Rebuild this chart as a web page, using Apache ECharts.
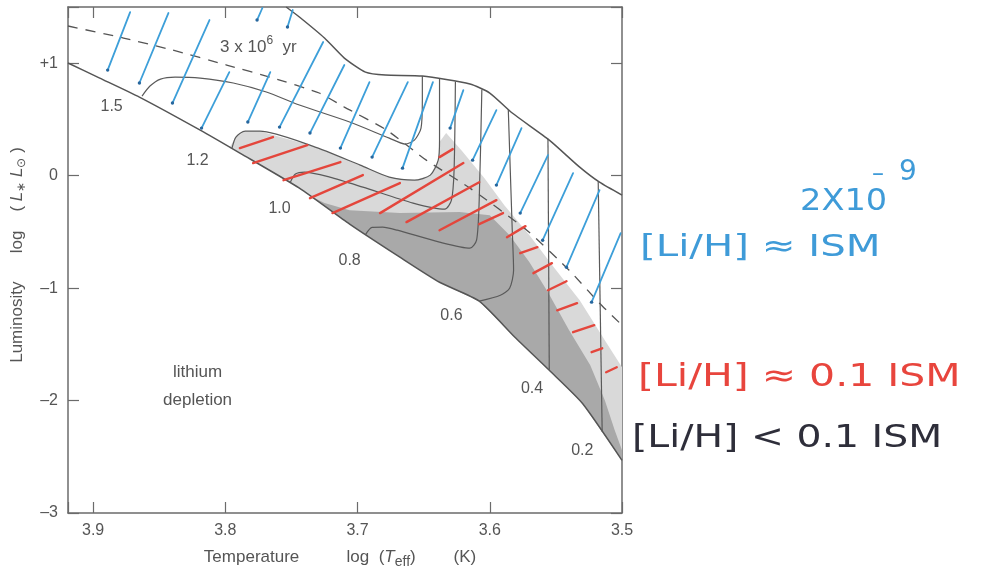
<!DOCTYPE html>
<html><head><meta charset="utf-8">
<script src="https://cdn.jsdelivr.net/npm/echarts@6/dist/echarts.min.js"></script>
<style>html,body{margin:0;padding:0;background:#fff}#c{width:984px;height:580px}</style>
</head><body><div id="c"></div>
<script>
// ---- axis settings (log Teff, log L) ----
const xMin = 3.5, xMax = 3.919, xStep = 0.1;
const yMin = -3, yMax = 1.5, yStep = 1;

// ---- boundaries [logTeff, logL] ----
const zams = [[3.919,1.002],[3.895,0.868],[3.865,0.699],[3.819,0.405],[3.789,0.201],[3.744,-0.111],[3.706,-0.431],[3.668,-0.725],[3.638,-0.948],[3.608,-1.116],[3.581,-1.437],[3.555,-1.731],[3.530,-2.024],[3.500,-2.532]];
const birthline = [[3.754,1.500],[3.744,1.411],[3.725,1.224],[3.710,1.046],[3.694,0.921],[3.679,0.895],[3.651,0.886],[3.615,0.815],[3.600,0.735],[3.583,0.557],[3.555,0.316],[3.532,0.076],[3.517,-0.058],[3.500,-0.173]];
const isochrone3Myr = [[3.919,1.331],[3.877,1.224],[3.840,1.117],[3.799,0.984],[3.764,0.868],[3.729,0.735],[3.710,0.610],[3.678,0.405],[3.648,0.138],[3.615,-0.111],[3.572,-0.485],[3.540,-0.841],[3.517,-1.134],[3.500,-1.330]];

// ---- evolutionary tracks ----
const track15 = [[3.863,0.708],[3.857,0.797],[3.849,0.859],[3.838,0.877],[3.819,0.868],[3.794,0.824],[3.769,0.744],[3.744,0.628],[3.706,0.477],[3.676,0.334],[3.664,0.281],[3.657,0.316],[3.652,0.423],[3.651,0.672],[3.651,0.886]];
const track12 = [[3.795,0.242],[3.792,0.343],[3.785,0.396],[3.774,0.396],[3.734,0.263],[3.698,0.094],[3.676,-0.013],[3.657,-0.040],[3.645,0.005],[3.639,0.138],[3.638,0.316],[3.638,0.861]];
const track10 = [[3.751,-0.062],[3.747,0.014],[3.740,0.032],[3.721,-0.013],[3.696,-0.102],[3.658,-0.244],[3.634,-0.298],[3.629,-0.218],[3.627,0.049],[3.626,0.838]];
const track08 = [[3.694,-0.524],[3.689,-0.46],[3.681,-0.458],[3.670,-0.485],[3.638,-0.591],[3.615,-0.645],[3.610,-0.574],[3.608,-0.218],[3.606,0.767]];
const track06 = [[3.608,-1.116],[3.592,-1.063],[3.585,-1.001],[3.582,-0.841],[3.583,-0.485],[3.585,0.227],[3.586,0.588]];
const track04 = [[3.556,0.330],[3.555,-1.725]];
const track02 = [[3.518,-0.049],[3.515,-2.278]];

// ---- shaded zones (edges; closed along the ZAMS) ----
const lightZoneEdge = [[3.797,0.245],[3.792,0.343],[3.785,0.396],[3.774,0.396],[3.734,0.263],[3.698,0.094],[3.676,-0.013],[3.657,-0.040],[3.645,0.005],[3.639,0.138],[3.638,0.300],[3.633,0.380],[3.621,0.220],[3.604,-0.022],[3.589,-0.262],[3.570,-0.529],[3.551,-0.823],[3.532,-1.107],[3.513,-1.464],[3.500,-1.704]];
const darkZoneEdge = [[3.736,-0.178],[3.725,-0.244],[3.706,-0.307],[3.668,-0.333],[3.623,-0.324],[3.600,-0.351],[3.585,-0.529],[3.570,-0.770],[3.556,-1.037],[3.540,-1.375],[3.524,-1.686],[3.513,-1.998],[3.5055,-2.265],[3.500,-2.443]];

// ---- hand-drawn hatching [x1,y1,x2,y2] ----
const blueHatch = [[3.872,1.455,3.889,0.939],[3.843,1.447,3.865,0.824],[3.812,1.384,3.840,0.646],[3.772,1.491,3.776,1.384],[3.749,1.473,3.753,1.322],[3.797,0.921,3.818,0.423],[3.766,0.921,3.783,0.477],[3.726,1.189,3.759,0.432],[3.710,0.984,3.736,0.379],[3.691,0.832,3.713,0.245],[3.662,0.832,3.689,0.165],[3.643,0.832,3.666,0.067],[3.620,0.761,3.630,0.423],[3.595,0.583,3.613,0.138],[3.576,0.423,3.595,-0.084],[3.556,0.183,3.577,-0.333],[3.537,0.023,3.560,-0.574],[3.517,-0.129,3.542,-0.814],[3.501,-0.511,3.523,-1.125]];
const redHatch = [[3.789,0.245,3.764,0.343],[3.779,0.112,3.738,0.272],[3.756,-0.040,3.713,0.121],[3.736,-0.200,3.696,0.005],[3.719,-0.333,3.668,-0.066],[3.683,-0.333,3.620,0.112],[3.663,-0.413,3.608,-0.058],[3.638,-0.485,3.595,-0.218],[3.638,0.165,3.628,0.236],[3.608,-0.431,3.590,-0.333],[3.587,-0.547,3.573,-0.449],[3.577,-0.689,3.564,-0.636],[3.567,-0.867,3.553,-0.778],[3.556,-1.019,3.542,-0.939],[3.549,-1.197,3.534,-1.134],[3.537,-1.392,3.521,-1.330],[3.523,-1.570,3.515,-1.535],[3.512,-1.748,3.504,-1.704]];

// ---- text labels ----
const massLabels = ['1.5','1.2','1.0','0.8','0.6','0.4','0.2'];
const massLabelX = [3.886,3.821,3.759,3.706,3.629,3.568,3.530];
const massLabelY = [0.610,0.138,-0.289,-0.752,-1.241,-1.891,-2.443];
const plotTexts = ['3 x 10{sup|6}  yr','lithium\ndepletion'];
const plotTextX = [3.775,3.821];
const plotTextY = [1.144,-1.873];

const lightPoly = lightZoneEdge.concat([[3.5,-2.532]]).concat(zams.filter(p => p[0] < 3.797 && p[0] > 3.5).reverse());
const darkPoly = darkZoneEdge.concat([[3.5,-2.532]]).concat(zams.filter(p => p[0] < 3.736 && p[0] > 3.5).reverse());

const FONT = 'Liberation Sans, Arial, sans-serif';
const GREY = '#555';

function polySeries(poly, fill, z) {
  return { type:'custom', clip:true, z:z, silent:true, data: poly,
    renderItem: function(params, api){
      if (params.dataIndex !== 0) return null;
      return { type:'polygon', shape:{ points: poly.map(p => api.coord(p)) }, style:{ fill: fill } };
    } };
}
function hatchSeries(rows, color, dotColor, z, width) {
  return { type:'custom', clip:true, z:z, silent:true, data: rows, encode:{x:[0,2], y:[1,3]},
    renderItem: function(params, api){
      const a = api.coord([api.value(0), api.value(1)]);
      const b = api.coord([api.value(2), api.value(3)]);
      const ch = [{ type:'line', shape:{x1:a[0],y1:a[1],x2:b[0],y2:b[1]}, style:{stroke:color, lineWidth:width, lineCap:'round'} }];
      if (dotColor) ch.push({ type:'circle', shape:{cx:b[0], cy:b[1], r:1.7}, style:{fill:dotColor} });
      return { type:'group', children: ch };
    } };
}
function lineSeries(data, opts) {
  return Object.assign({ type:'line', data:data, showSymbol:false, symbol:'none', silent:true, z:3,
    lineStyle:{ color:'#5a5a5a', width:1.2 }, smooth:0.25 }, opts || {});
}
function textSeries(xs, ys, texts, size) {
  return { type:'custom', z:6, silent:true, data: xs.map((x,i) => [x, ys[i]]),
    renderItem: function(params, api){
      const p = api.coord([api.value(0), api.value(1)]);
      return { type:'text', x:p[0], y:p[1], style:{ text: texts[params.dataIndex], fill:GREY, fontSize:size, fontFamily:FONT, align:'center', verticalAlign:'middle', lineHeight: size*1.65,
        rich:{ sup:{ fontSize:12, fill:GREY, fontFamily:FONT, padding:[0,0,12,0] } } } };
    } };
}

const axisCommon = {
  axisLine:{ onZero:false, lineStyle:{ color:'#6b6b6b', width:1.5 } },
  axisTick:{ inside:true, length:11, lineStyle:{ color:'#6b6b6b', width:1.2 } },
  splitLine:{ show:false }
};

const chart = echarts.init(document.getElementById('c'), null, {renderer:'canvas'});
chart.setOption({
  animation:false,
  backgroundColor:'#ffffff',
  grid:{ left:68, right:362, top:7, bottom:67 },
  xAxis:[
    Object.assign({ type:'value', min:xMin, max:xMax, interval:xStep, inverse:true, position:'bottom',
      axisLabel:{ margin:10, color:GREY, fontSize:16, fontFamily:FONT,
        formatter: v => { const r = Math.round(v*10)/10; return Math.abs(v-r) < 1e-6 ? r.toFixed(1) : ''; } },
      name:'Temperature          log  ({i|T}{s|eff})        (K)', nameLocation:'middle', nameGap:32,
      nameTextStyle:{ color:GREY, fontSize:17, fontFamily:FONT, padding:[0,10,0,0],
        rich:{ i:{ fontStyle:'italic', fontSize:17, color:GREY, fontFamily:FONT }, s:{ fontSize:14, color:GREY, fontFamily:FONT, padding:[10,0,0,0] } } }
    }, axisCommon),
    Object.assign({ type:'value', min:xMin, max:xMax, interval:xStep, inverse:true, position:'top', axisLabel:{show:false} }, axisCommon)
  ],
  yAxis:[
    Object.assign({ type:'value', min:yMin, max:yMax, interval:yStep, position:'left',
      axisLabel:{ margin:10, color:GREY, fontSize:16, fontFamily:FONT,
        formatter: v => { const r = Math.round(v); if (Math.abs(v-r) > 1e-6) return ''; return r > 0 ? '+' + r : (r < 0 ? '\u2013' + (-r) : '0'); } },
      name:'Luminosity      log    ( {i|L}{s|\u2217} {i|L}{s|\u2299} )', nameLocation:'middle', nameGap:40, nameRotate:90,
      nameTextStyle:{ color:GREY, fontSize:17, fontFamily:FONT, padding:[0,0,0,10],
        rich:{ i:{ fontStyle:'italic', fontSize:17, color:GREY, fontFamily:FONT }, s:{ fontSize:12, color:GREY, fontFamily:FONT, padding:[10,0,0,0] } } }
    }, axisCommon),
    Object.assign({ type:'value', min:yMin, max:yMax, interval:yStep, position:'right', axisLabel:{show:false} }, axisCommon)
  ],
  series:[
    polySeries(lightPoly, '#d9d9d9', 1),
    polySeries(darkPoly, '#a9a9a9', 2),
    lineSeries(zams, { smooth:0.2, lineStyle:{ color:'#555', width:1.5 } }),
    lineSeries(birthline, { smooth:0.2, lineStyle:{ color:'#555', width:1.5 } }),
    lineSeries(isochrone3Myr, { smooth:0.2, lineStyle:{ color:'#555', width:1.3, type:[10,8] } }),
    lineSeries(track15), lineSeries(track12), lineSeries(track10), lineSeries(track08),
    lineSeries(track06), lineSeries(track04, {smooth:false}), lineSeries(track02, {smooth:false}),
    hatchSeries(redHatch, '#e4463c', null, 4, 2.4),
    hatchSeries(blueHatch, '#3d9fd9', '#27679e', 5, 1.8),
    textSeries(massLabelX, massLabelY, massLabels, 16),
    textSeries(plotTextX, plotTextY, plotTexts, 17)
  ],
  graphic:[
    { type:'text', left:800, top:187, style:{ text:'2X10', fill:'#3f9bd8', fontSize:30, fontFamily:'DejaVu Sans' }, scaleX:1.12 },
    { type:'text', left:872, top:163, style:{ text:'\u2013', fill:'#3f9bd8', fontSize:24, fontFamily:'DejaVu Sans' } },
    { type:'text', left:899, top:159, style:{ text:'9', fill:'#3f9bd8', fontSize:28, fontFamily:'DejaVu Sans' } },
    { type:'text', left:640, top:232, style:{ text:'[Li/H] \u2248 ISM', fill:'#3f9bd8', fontSize:31, fontFamily:'DejaVu Sans' }, scaleX:1.3 },
    { type:'text', left:638, top:362, style:{ text:'[Li/H] \u2248 0.1 ISM', fill:'#e8453d', fontSize:32, fontFamily:'DejaVu Sans' }, scaleX:1.28 },
    { type:'text', left:632, top:423, style:{ text:'[Li/H] < 0.1 ISM', fill:'#2e2e3a', fontSize:32, fontFamily:'DejaVu Sans' }, scaleX:1.23 }
  ]
});
</script></body></html>
